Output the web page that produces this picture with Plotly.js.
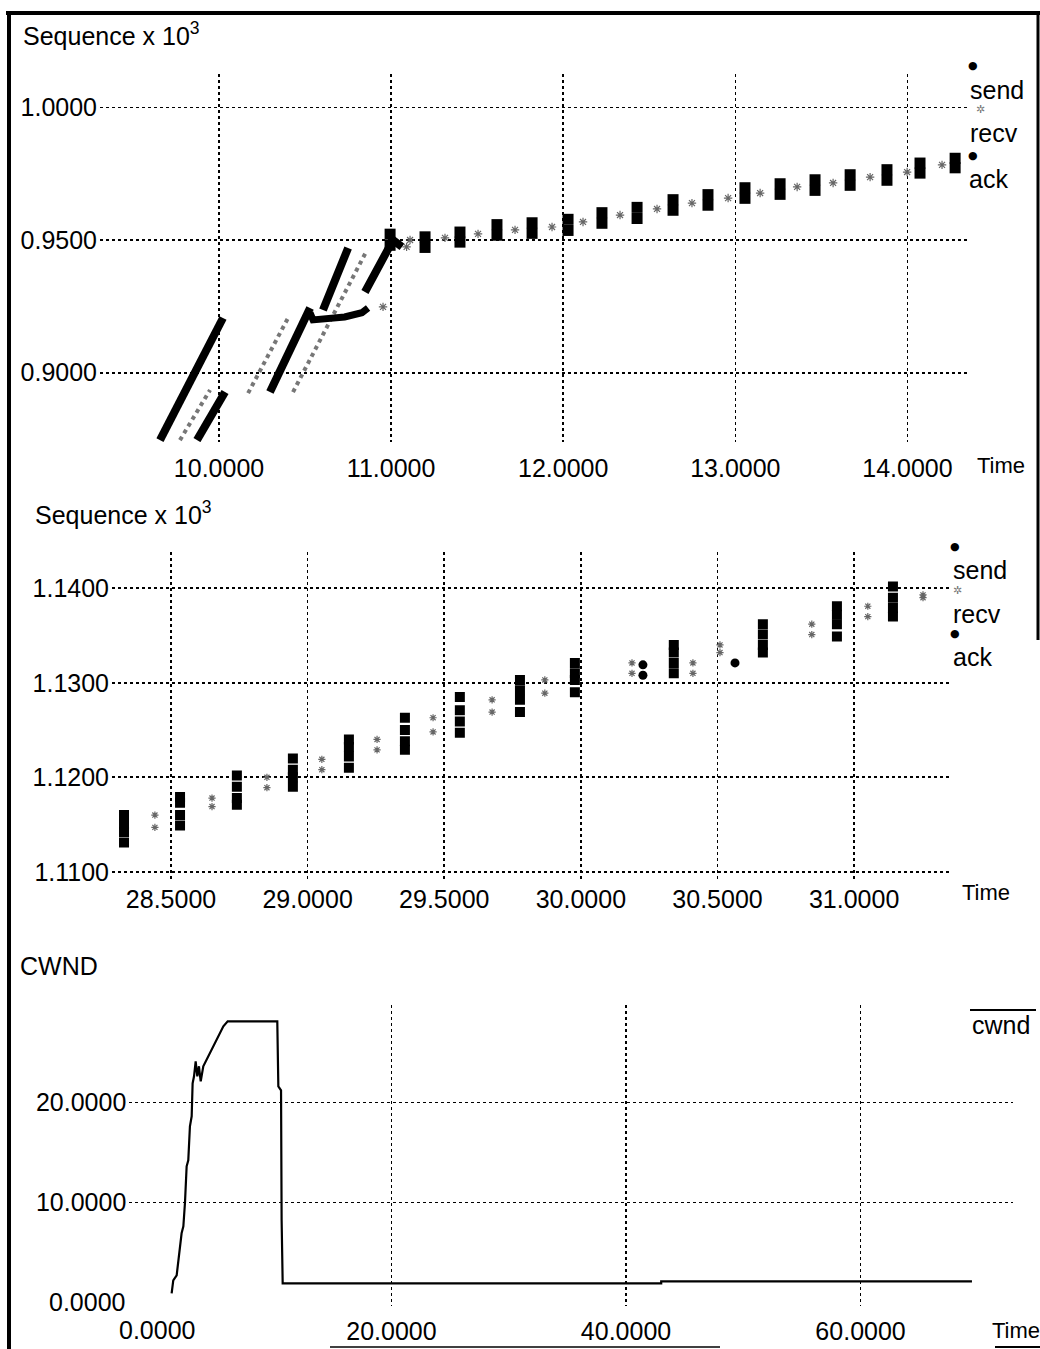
<!DOCTYPE html>
<html>
<head>
<meta charset="utf-8">
<script src="https://cdn.plot.ly/plotly-3.0.1.min.js"></script>
<style>html,body{margin:0;padding:0;background:#fff;}#chart{width:1040px;height:1349px;}</style>
</head>
<body>
<div id="chart"></div>
<script>
// ---------------- Panel 1 data (Time vs Sequence x 10^3) ----------------
const p1TimeTicks = [10, 11, 12, 13, 14];
const p1SeqTicks = [0.90, 0.95, 1.00];
// slow-start bursts drawn as thick runs (send)
const p1SendRunT = [9.657, 10.023, null, 9.872, 10.035, null, 10.296, 10.529, null, 10.604, 10.750, null, 10.848, 11.011, 11.063];
const p1SendRunS = [0.8746, 0.9206, null, 0.8746, 0.8927, null, 0.8927, 0.9244, null, 0.9236, 0.9470, null, 0.9304, 0.9500, 0.9474];
// slow-start receive runs
const p1RecvRunT = [9.773, 9.948, null, 10.169, 10.401, null, 10.430, 10.860];
const p1RecvRunS = [0.8746, 0.8935, null, 0.8923, 0.9206, null, 0.8927, 0.9462];
// ack branch
const p1AckT = [10.529, 10.546, 10.730, 10.830, 10.866];
const p1AckS = [0.9225, 0.9199, 0.9210, 0.9226, 0.9244];
// steady-state send bursts (top & bottom of each burst)
const p1SendT = [10.994, 10.994, 11.197, 11.197, 11.400, 11.400, 11.615, 11.615, 11.819, 11.819, 12.028, 12.028,
                 12.225, 12.225, 12.429, 12.429, 12.638, 12.638, 12.841, 12.841, 13.056, 13.056, 13.260, 13.260,
                 13.463, 13.463, 13.667, 13.667, 13.881, 13.881, 14.073, 14.073, 14.277, 14.277];
const p1SendS = [0.9522, 0.9480, 0.9512, 0.9472, 0.9530, 0.9492, 0.9558, 0.9518, 0.9565, 0.9525, 0.9578, 0.9536,
                 0.9603, 0.9563, 0.9623, 0.9581, 0.9652, 0.9612, 0.9671, 0.9631, 0.9697, 0.9657, 0.9712, 0.9672,
                 0.9727, 0.9687, 0.9746, 0.9706, 0.9765, 0.9725, 0.9790, 0.9752, 0.9808, 0.9772];
// steady-state receive
const p1RecvT = [10.953, 11.090, 11.110, 11.313, 11.505, 11.720, 11.935, 12.115, 12.330, 12.545, 12.748, 12.958, 13.144, 13.359, 13.568, 13.783, 13.998, 14.201];
const p1RecvS = [0.9248, 0.9474, 0.9500, 0.9508, 0.9523, 0.9538, 0.9549, 0.9568, 0.9594, 0.9617, 0.9639, 0.9658, 0.9677, 0.9700, 0.9715, 0.9737, 0.9756, 0.9783];

// ---------------- Panel 2 data ----------------
const p2TimeTicks = [28.5, 29.0, 29.5, 30.0, 30.5, 31.0];
const p2SeqTicks = [1.11, 1.12, 1.13, 1.14];
const p2SendT = [28.328, 28.328, 28.328, 28.328, 28.533, 28.533, 28.533, 28.533, 28.741, 28.741, 28.741, 28.741,
                 28.946, 28.946, 28.946, 28.946, 29.151, 29.151, 29.151, 29.151, 29.356, 29.356, 29.356, 29.356,
                 29.557, 29.557, 29.557, 29.557, 29.777, 29.777, 29.777, 29.777, 29.978, 29.978, 29.978, 29.978,
                 30.340, 30.340, 30.340, 30.340, 30.666, 30.666, 30.666, 30.666, 30.937, 30.937, 30.937, 30.937,
                 31.142, 31.142, 31.142, 31.142];
const p2SendS = [1.1160, 1.1150, 1.1142, 1.1131, 1.1179, 1.1173, 1.1160, 1.1149, 1.1202, 1.1190, 1.1178, 1.1171,
                 1.1220, 1.1208, 1.1200, 1.1190, 1.1240, 1.1232, 1.1222, 1.1210, 1.1263, 1.1250, 1.1238, 1.1229,
                 1.1285, 1.1271, 1.1259, 1.1247, 1.1303, 1.1292, 1.1282, 1.1269, 1.1321, 1.1310, 1.1303, 1.1290,
                 1.1340, 1.1332, 1.1321, 1.1310, 1.1362, 1.1351, 1.1340, 1.1332, 1.1381, 1.1372, 1.1362, 1.1349,
                 1.1402, 1.1390, 1.1379, 1.1370];
const p2RecvT = [28.441, 28.441, 28.650, 28.650, 28.851, 28.851, 29.052, 29.052, 29.254, 29.254, 29.459, 29.459,
                 29.675, 29.675, 29.868, 29.868, 30.187, 30.187, 30.410, 30.410, 30.509, 30.509, 30.845, 30.845,
                 31.050, 31.050, 31.252, 31.252];
const p2RecvS = [1.1160, 1.1147, 1.1178, 1.1169, 1.1200, 1.1189, 1.1219, 1.1208, 1.1240, 1.1229, 1.1263, 1.1248,
                 1.1282, 1.1269, 1.1303, 1.1289, 1.1321, 1.1310, 1.1321, 1.1310, 1.1340, 1.1332, 1.1362, 1.1351,
                 1.1381, 1.1370, 1.1393, 1.1390];
const p2AckT = [30.227, 30.227, 30.564];
const p2AckS = [1.1319, 1.1308, 1.1321];

// ---------------- Panel 3 data (CWND) ----------------
const p3TimeTicks = [20, 40, 60];
const p3CwndTicks = [10, 20];
const cwndT = [1.25, 1.39, 1.68, 1.88, 2.10, 2.25, 2.39, 2.53, 2.67, 2.81, 2.96, 3.04, 3.16, 3.30, 3.44, 3.58, 3.73, 3.95,
               4.52, 4.95, 5.37, 5.66, 6.03, 10.26, 10.35, 10.58, 10.63, 10.72, 43.0, 43.0, 69.5];
const cwndV = [0.9, 2.2, 2.7, 4.7, 6.9, 7.6, 10.0, 13.6, 14.2, 17.6, 18.6, 21.9, 22.6, 24.1, 22.6, 23.6, 22.1, 23.6,
               24.9, 25.9, 26.9, 27.6, 28.1, 28.1, 21.6, 21.2, 8.2, 1.9, 1.9, 2.1, 2.1];

// ---------------- layout helpers ----------------
const W = 1040, H = 1349;
const fx = p => p / W;
const fy = p => 1 - p / H;
const FONT = 'Liberation Sans, Arial, sans-serif';
const gridCommon = {
  showgrid: true, gridcolor: '#000', griddash: 'dot', gridwidth: 1.6,
  zeroline: false, showline: false, ticks: '', tickmode: 'array',
  tickformat: '.4f', tickfont: {family: FONT, size: 25, color: '#000'}, fixedrange: true
};

const traces = [
  // panel 1
  {x: p1RecvRunT, y: p1RecvRunS, xaxis: 'x', yaxis: 'y', mode: 'lines', connectgaps: false,
   line: {color: '#777', width: 4, dash: 'dot'}, hoverinfo: 'skip'},
  {x: p1SendRunT, y: p1SendRunS, xaxis: 'x', yaxis: 'y', mode: 'lines', connectgaps: false,
   line: {color: '#000', width: 8}, hoverinfo: 'skip'},
  {x: p1AckT, y: p1AckS, xaxis: 'x', yaxis: 'y', mode: 'lines',
   line: {color: '#000', width: 7}, hoverinfo: 'skip'},
  {x: p1SendT, y: p1SendS, xaxis: 'x', yaxis: 'y', mode: 'markers',
   marker: {color: '#000', size: 11, symbol: 'square'}, hoverinfo: 'skip'},
  {x: p1RecvT, y: p1RecvS, xaxis: 'x', yaxis: 'y', mode: 'markers',
   marker: {color: '#666', size: 7, symbol: 'asterisk-open', line: {color: '#666', width: 1.2}}, hoverinfo: 'skip'},
  // panel 2
  {x: p2SendT, y: p2SendS, xaxis: 'x2', yaxis: 'y2', mode: 'markers',
   marker: {color: '#000', size: 10, symbol: 'square'}, hoverinfo: 'skip'},
  {x: p2RecvT, y: p2RecvS, xaxis: 'x2', yaxis: 'y2', mode: 'markers',
   marker: {color: '#666', size: 6, symbol: 'asterisk-open', line: {color: '#666', width: 1.2}}, hoverinfo: 'skip'},
  {x: p2AckT, y: p2AckS, xaxis: 'x2', yaxis: 'y2', mode: 'markers',
   marker: {color: '#000', size: 9, symbol: 'circle'}, hoverinfo: 'skip'},
  // panel 3
  {x: cwndT, y: cwndV, xaxis: 'x3', yaxis: 'y3', mode: 'lines',
   line: {color: '#000', width: 2.2}, hoverinfo: 'skip'}
];

const ann = (x, y, text, opts) => Object.assign({
  x: x, y: y, xref: 'paper', yref: 'paper', text: text, showarrow: false,
  xanchor: 'left', yanchor: 'middle', font: {family: FONT, size: 25, color: '#000'}
}, opts || {});
const mk = (x, y, ch, col) => ann(x, y, ch, {xanchor: 'center', borderpad: 0,
  font: {family: 'DejaVu Sans, sans-serif', size: 11, color: col}});

const layout = {
  width: W, height: H, margin: {l: 0, r: 0, t: 0, b: 0},
  paper_bgcolor: '#fff', plot_bgcolor: '#fff', showlegend: false,
  xaxis: Object.assign({}, gridCommon, {domain: [fx(100), fx(967)], range: [9.3085, 14.346], anchor: 'y',
    tickvals: p1TimeTicks, ticklabelstandoff: 9}),
  yaxis: Object.assign({}, gridCommon, {domain: [fy(442), fy(74)], range: [0.87389, 1.01255], anchor: 'x',
    tickvals: p1SeqTicks, ticklabelstandoff: 2}),
  xaxis2: Object.assign({}, gridCommon, {domain: [fx(112), fx(951.7)], range: [28.284, 31.357], anchor: 'y2',
    tickvals: p2TimeTicks, ticklabelstandoff: 0}),
  yaxis2: Object.assign({}, gridCommon, {domain: [fy(881.7), fy(551.7)], range: [1.10895, 1.14387], anchor: 'x2',
    tickvals: p2SeqTicks, ticklabelstandoff: 2}),
  xaxis3: Object.assign({}, gridCommon, {domain: [fx(129.3), fx(1013)], range: [-2.36, 73.0], anchor: 'y3',
    tickvals: p3TimeTicks, ticklabelstandoff: 8}),
  yaxis3: Object.assign({}, gridCommon, {domain: [fy(1306), fy(1005)], range: [-0.37, 29.73], anchor: 'x3',
    tickvals: p3CwndTicks, ticklabelstandoff: 2}),
  annotations: [
    ann(fx(21), fy(34), 'Sequence x 10<sup>3</sup>'),
    ann(fx(33), fy(513), 'Sequence x 10<sup>3</sup>'),
    ann(fx(18), fy(966), 'CWND'),
    // panel 1 legend
    ann(fx(968), fy(90), 'send'),
    ann(fx(968), fy(133), 'recv'),
    ann(fx(967), fy(179), 'ack'),
    mk(fx(973), fy(66), '●', '#000'),
    mk(fx(980), fy(109), '✲', '#777'),
    mk(fx(973), fy(155), '●', '#000'),
    ann(fx(975), fy(465), 'Time', {font: {family: FONT, size: 22, color: '#000'}}),
    // panel 2 legend
    ann(fx(951), fy(570), 'send'),
    ann(fx(951), fy(614), 'recv'),
    ann(fx(951), fy(657), 'ack'),
    mk(fx(955), fy(546), '●', '#000'),
    mk(fx(957), fy(590), '✲', '#777'),
    mk(fx(955), fy(633), '●', '#000'),
    ann(fx(960), fy(892), 'Time', {font: {family: FONT, size: 22, color: '#000'}}),
    // panel 3 legend & extra zero labels
    ann(fx(970), fy(1025), 'cwnd'),
    ann(fx(990), fy(1330), 'Time', {font: {family: FONT, size: 22, color: '#000'}}),
    {x: fx(127), y: 0, xref: 'paper', yref: 'y3', text: '0.0000', showarrow: false, xanchor: 'right', yanchor: 'middle',
     font: {family: FONT, size: 25, color: '#000'}},
    {x: 0, y: fy(1330), xref: 'x3', yref: 'paper', text: '0.0000', showarrow: false, xanchor: 'center', yanchor: 'middle',
     font: {family: FONT, size: 25, color: '#000'}}
  ],
  shapes: [
    // scanned frame edges
    {type: 'line', xref: 'paper', yref: 'paper', x0: fx(6), x1: fx(1040), y0: fy(13), y1: fy(13), line: {color: '#000', width: 4}},
    {type: 'line', xref: 'paper', yref: 'paper', x0: fx(9), x1: fx(9), y0: fy(13), y1: fy(1349), line: {color: '#000', width: 4}},
    {type: 'line', xref: 'paper', yref: 'paper', x0: fx(1038), x1: fx(1038), y0: fy(13), y1: fy(640), line: {color: '#000', width: 3}},
    {type: 'line', xref: 'paper', yref: 'paper', x0: fx(330), x1: fx(720), y0: fy(1347), y1: fy(1347), line: {color: '#000', width: 1.5}},
    {type: 'line', xref: 'paper', yref: 'paper', x0: fx(995), x1: fx(1040), y0: fy(1347), y1: fy(1347), line: {color: '#000', width: 2}},
    // overline of the cwnd legend entry
    {type: 'line', xref: 'paper', yref: 'paper', x0: fx(970), x1: fx(1036), y0: fy(1010), y1: fy(1010), line: {color: '#000', width: 2}}
  ]
};

Plotly.newPlot('chart', traces, layout, {staticPlot: true, displayModeBar: false});
</script>
</body>
</html>
